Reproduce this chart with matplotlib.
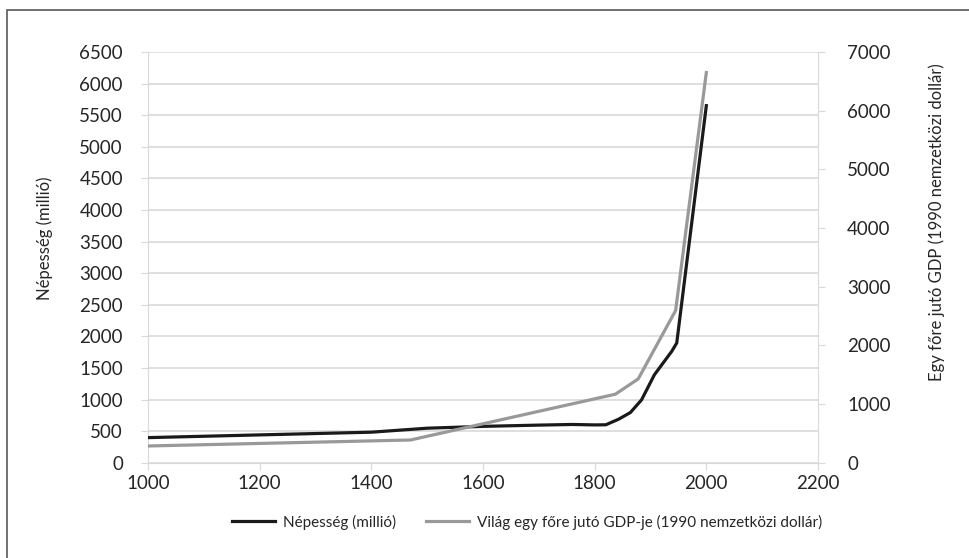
import matplotlib
matplotlib.use("Agg")
import matplotlib.pyplot as plt
from matplotlib.patches import Rectangle

plt.rcParams['font.family'] = ['Lato', 'DejaVu Sans']

# Népesség (millió) - left axis
pop_years = [1000, 1400, 1500, 1600, 1700, 1760, 1800, 1820, 1843, 1864, 1884, 1907, 1938, 1947, 2000]
pop_values = [397, 483, 546, 575, 595, 605, 598, 600, 689, 794, 995, 1392, 1762, 1895, 5651]

# Világ egy főre jutó GDP-je (1990 nemzetközi dollár) - right axis
gdp_years = [1000, 1470, 1837, 1878, 1945, 2000]
gdp_values = [285, 387, 1167, 1428, 2594, 6650]

x_ticks = [1000, 1200, 1400, 1600, 1800, 2000, 2200]
left_ticks = list(range(0, 6501, 500))
right_ticks = list(range(0, 7001, 1000))

W, H = 969, 558
fig = plt.figure(figsize=(W / 100, H / 100), dpi=100)
ax = fig.add_axes([148 / W, 1 - 462.7 / H, (818 - 148) / W, (462.7 - 52) / H])
ax2 = ax.twinx()

grid_c = '#d9d9d9'
txt_c = '#262626'

ax.plot(pop_years, pop_values, color='#1a1a1a', lw=2.3, solid_joinstyle='round',
        label='Népesség (millió)', zorder=3)
ax2.plot(gdp_years, gdp_values, color='#999999', lw=2.3, solid_joinstyle='round',
         label='Világ egy főre jutó GDP-je (1990 nemzetközi dollár)', zorder=2)

ax.set_xlim(1000, 2200)
ax.set_ylim(0, 6500)
ax2.set_ylim(0, 7000)
ax.set_xticks(x_ticks)
ax.set_yticks(left_ticks)
ax2.set_yticks(right_ticks)
ax.yaxis.grid(True, color=grid_c, lw=1.2)
ax.set_axisbelow(True)

for a in (ax, ax2):
    for s in a.spines.values():
        s.set_visible(False)
ax.spines['left'].set_visible(True)
ax.spines['left'].set_color(grid_c)
ax.spines['bottom'].set_visible(True)
ax.spines['bottom'].set_color(grid_c)
ax2.spines['right'].set_visible(True)
ax2.spines['right'].set_color(grid_c)

ax.tick_params(axis='y', length=5, color=grid_c, labelsize=13.5, labelcolor=txt_c, pad=13)
ax.tick_params(axis='x', length=5, color=grid_c, labelsize=13.5, labelcolor=txt_c, pad=4)
ax2.tick_params(axis='y', length=5, color=grid_c, labelsize=13.5, labelcolor=txt_c, pad=16)

ax.set_ylabel('Népesség (millió)', fontsize=12, color=txt_c)
ax.yaxis.set_label_coords((53 - 148) / (818 - 148), (462.7 - 238) / 410.7)
ax2.set_ylabel('Egy főre jutó GDP (1990 nemzetközi dollár)', fontsize=12, color=txt_c)
ax2.yaxis.set_label_coords((928 - 148) / (818 - 148), (462.7 - 222) / 410.7)

h1, l1 = ax.get_legend_handles_labels()
h2, l2 = ax2.get_legend_handles_labels()
fig.legend(h1 + h2, l1 + l2, loc='center', bbox_to_anchor=(527 / W, 1 - 522 / H),
           ncol=2, frameon=False, fontsize=11, labelcolor=txt_c,
           handlelength=2.8, handletextpad=0.5, columnspacing=2.0)

# outer frame (only top and left edges inside image)
fig.patches.append(Rectangle((7 / W, -0.1), 1.2, 1 - 9.5 / H + 0.1, transform=fig.transFigure,
                             fill=False, edgecolor='#595959', lw=1.2))

fig.savefig('out.png', dpi=100)
